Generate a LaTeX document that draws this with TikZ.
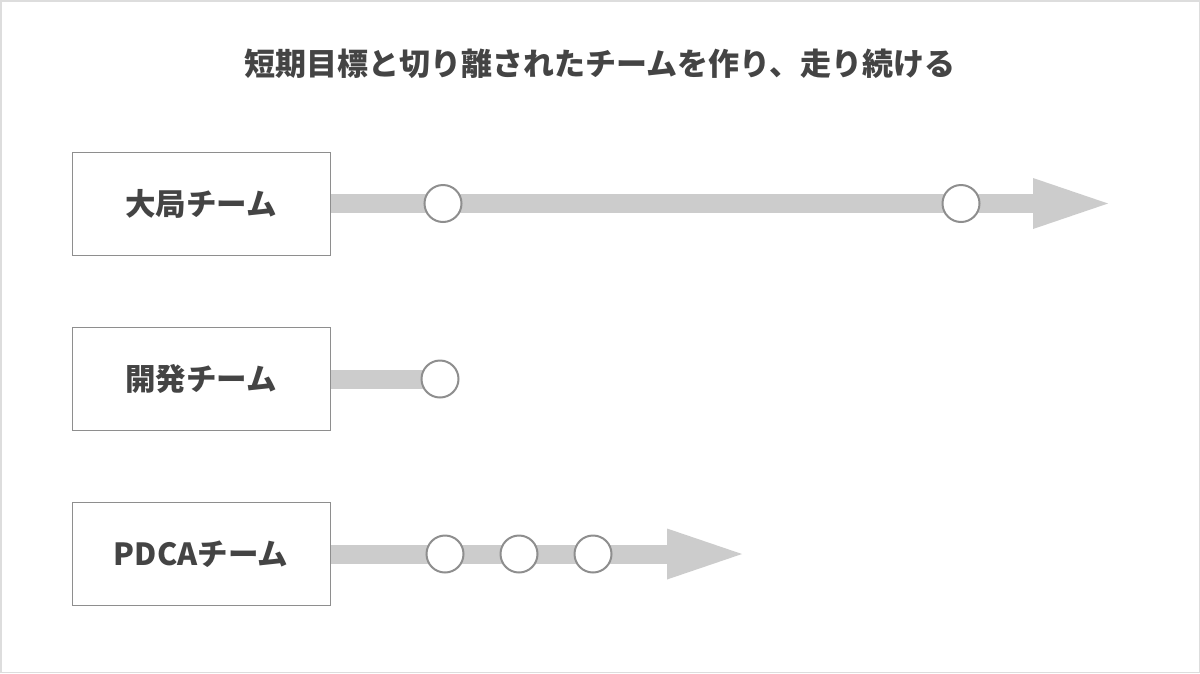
\documentclass[tikz,border=0pt]{standalone}
\usepackage{fontspec}
\newfontfamily\jp{Noto Sans CJK JP}
\usetikzlibrary{backgrounds}
\definecolor{txt}{HTML}{444444}
\definecolor{barc}{HTML}{CCCCCC}
\definecolor{edge}{HTML}{8E8E8E}
\definecolor{frame}{HTML}{DDDDDD}
\tikzset{
  team/.style={draw=edge, line width=0.9pt, minimum width=258pt, minimum height=103pt, inner sep=0pt, font=\jp\bfseries\fontsize{30.5}{34}\selectfont, text=txt},
  milestone/.style={circle, draw=edge, line width=2pt, fill=white, minimum size=37pt, inner sep=0pt},
  bar/.style={draw=barc, line width=19pt},
  arrowhead/.style={fill=barc},
}
\begin{document}
\begin{tikzpicture}[x=1pt,y=-1pt]
\useasboundingbox (0,0) rectangle (1200,673);
\node[font=\jp\bfseries\fontsize{31}{35}\selectfont, text=txt] (title) at (600,64) {短期目標と切り離されたチームを作り、走り続ける};
\node[team] (b1) at (201,203.5) {大局チーム};
\node[team] (b2) at (201,379) {開発チーム};
\node[team] (b3) at (201,554) {PDCAチーム};
\node[milestone] (c11) at (443,203.5) {};
\node[milestone] (c12) at (961,203.5) {};
\node[milestone] (c21) at (440,379) {};
\node[milestone] (c31) at (445,554) {};
\node[milestone] (c32) at (519,554) {};
\node[milestone] (c33) at (593,554) {};
\coordinate (h1) at (1033,203.5);
\coordinate (e1) at (1108,203.5);
\coordinate (h3) at (667,554);
\coordinate (e3) at (742,554);
\begin{pgfonlayer}{background}
\fill[white] (0,0) rectangle (1200,673);
\draw[frame, line width=1.5pt] (0.75,0.75) rectangle (1199.25,672.25);
\draw[bar] (b1.east) -- (h1);
\fill[arrowhead] ([yshift=-25.5pt]h1) -- (e1) -- ([yshift=25.5pt]h1) -- cycle;
\draw[bar] (b2.east) -- (c21.center);
\draw[bar] (b3.east) -- (h3);
\fill[arrowhead] ([yshift=-25.5pt]h3) -- (e3) -- ([yshift=25.5pt]h3) -- cycle;
\end{pgfonlayer}
\end{tikzpicture}
\end{document}
